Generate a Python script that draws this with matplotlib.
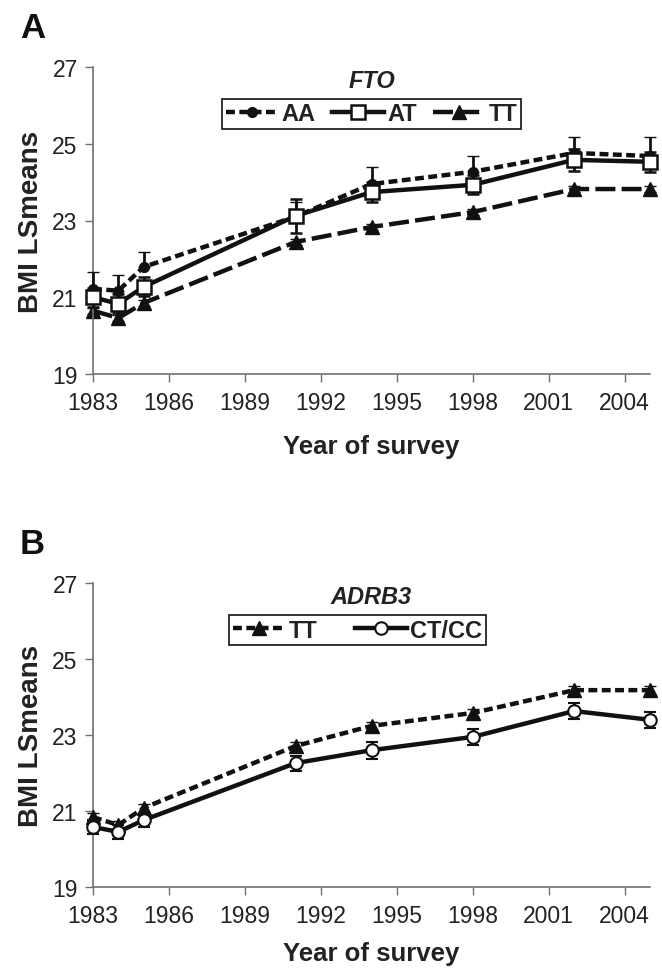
import matplotlib
matplotlib.use("Agg")
import matplotlib.pyplot as plt
from matplotlib.lines import Line2D
import numpy as np

plt.rcParams['font.family'] = ['Liberation Sans', 'DejaVu Sans']

years = [1983, 1984, 1985, 1991, 1994, 1998, 2002, 2005]

# Panel A: FTO
fto_AA = [21.22, 21.17, 21.79, 23.10, 23.95, 24.27, 24.76, 24.68]
fto_AA_err = [0.44, 0.41, 0.39, 0.38, 0.45, 0.41, 0.42, 0.50]
fto_AT = [21.00, 20.83, 21.27, 23.12, 23.74, 23.93, 24.58, 24.53]
fto_AT_err = [0.25, 0.25, 0.25, 0.45, 0.26, 0.25, 0.29, 0.26]
fto_TT = [20.65, 20.46, 20.85, 22.44, 22.83, 23.22, 23.82, 23.82]
fto_TT_err = [0.08, 0.08, 0.08, 0.08, 0.08, 0.08, 0.08, 0.08]

# Panel B: ADRB3
adrb_TT = [20.84, 20.63, 21.08, 22.71, 23.24, 23.58, 24.18, 24.18]
adrb_TT_err = [0.1, 0.1, 0.1, 0.1, 0.1, 0.1, 0.1, 0.1]
adrb_CT = [20.58, 20.45, 20.76, 22.26, 22.60, 22.95, 23.63, 23.40]
adrb_CT_err = [0.18, 0.19, 0.18, 0.20, 0.22, 0.21, 0.22, 0.21]

xticks = [1983, 1986, 1989, 1992, 1995, 1998, 2001, 2004]
yticks = [19, 21, 23, 25, 27]

W, H = 662, 970
fig = plt.figure(figsize=(W / 100, H / 100), dpi=100)

axA = fig.add_axes([93 / W, 1 - 375 / H, 557 / W, 307 / H])
axB = fig.add_axes([93 / W, 1 - 888 / H, 557 / W, 304 / H])

LW = 3.2
cap = 4
spine_col = '#707070'
K = '#111111'


def style(ax, xpad):
    ax.set_xlim(1983, 2005)
    ax.set_ylim(19, 27)
    ax.set_xticks(xticks)
    ax.set_yticks(yticks)
    ax.tick_params(axis='both', labelsize=16.5, direction='out', length=6,
                   width=1, color=spine_col, labelcolor='#222222', pad=5)
    ax.tick_params(axis='x', pad=6)
    for s in ['top', 'right']:
        ax.spines[s].set_visible(False)
    for s in ['left', 'bottom']:
        ax.spines[s].set_color(spine_col)
        ax.spines[s].set_linewidth(1.2)
    ax.set_ylabel('BMI LSmeans', fontsize=20, fontweight='bold', labelpad=6,
                  color='#222222')
    ax.set_xlabel('Year of survey', fontsize=18.5, fontweight='bold', labelpad=xpad,
                  color='#222222')


def series(ax, y, err, dashes, marker, ms, mfc, mew, z):
    kw = dict(color=K, lw=LW, marker=marker, ms=ms, mfc=mfc, mec=K, mew=mew,
              ecolor=K, elinewidth=2, capsize=cap, capthick=2, zorder=z)
    if dashes is not None:
        kw['dashes'] = dashes
    cont = ax.errorbar(years, y, yerr=err, **kw)
    for art in cont.get_children():
        art.set_clip_on(False)
    return cont


def handle(dashes, marker, ms, mfc, mew):
    kw = dict(color=K, lw=LW, marker=marker, ms=ms, mfc=mfc, mec=K, mew=mew)
    if dashes is not None:
        kw['dashes'] = dashes
    return Line2D([], [], **kw)


# ---- Panel A
st_AA = ((2.0, 1.0), 'o', 7, K, 1)
st_AT = (None, 's', 10, 'white', 1.8)
st_TT = ((4.5, 1.4), '^', 10, K, 1)
series(axA, fto_TT, fto_TT_err, *st_TT, 2)
series(axA, fto_AA, [np.zeros(len(years)), fto_AA_err], *st_AA, 3)
series(axA, fto_AT, fto_AT_err, *st_AT, 4)
style(axA, 15)
legA = axA.legend([handle(*st_AA), handle(*st_AT), handle(*st_TT)],
                  ['AA', 'AT', 'TT'], ncol=3,
                  loc='center', bbox_to_anchor=(0.5, 0.848), frameon=True,
                  fancybox=False, edgecolor=K, framealpha=1,
                  prop={'weight': 'bold', 'size': 17}, handlelength=2.2,
                  handletextpad=0.15, columnspacing=0.7, borderpad=0.15,
                  borderaxespad=0)
legA.get_frame().set_linewidth(1.2)
for t in legA.get_texts():
    t.set_color('#222222')
axA.text(0.5, 0.955, 'FTO', transform=axA.transAxes, ha='center', va='center',
         fontsize=17, fontweight='bold', fontstyle='italic', color='#222222')

# ---- Panel B
st_BT = ((2.0, 1.0), '^', 10, K, 1)
st_BC = (None, 'o', 9, 'white', 1.5)
series(axB, adrb_TT, adrb_TT_err, *st_BT, 3)
series(axB, adrb_CT, adrb_CT_err, *st_BC, 4)
style(axB, 10)
legB = axB.legend([handle(*st_BT), handle(*st_BC)], ['TT', 'CT/CC'], ncol=2,
                  loc='center', bbox_to_anchor=(0.475, 0.845), frameon=True,
                  fancybox=False, edgecolor=K, framealpha=1,
                  prop={'weight': 'bold', 'size': 17}, handlelength=2.2,
                  handletextpad=0.15, columnspacing=1.6, borderpad=0.15,
                  borderaxespad=0)
legB.get_frame().set_linewidth(1.2)
for t in legB.get_texts():
    t.set_color('#222222')
axB.text(0.5, 0.955, 'ADRB3', transform=axB.transAxes, ha='center', va='center',
         fontsize=17, fontweight='bold', fontstyle='italic', color='#222222')

fig.text(20 / W, 1 - 28 / H, 'A', fontsize=25, fontweight='bold', va='center',
         ha='left', color='#111111')
fig.text(20 / W, 1 - 545 / H, 'B', fontsize=25, fontweight='bold', va='center',
         ha='left', color='#111111')

fig.savefig('out.png', dpi=100, facecolor='white')
